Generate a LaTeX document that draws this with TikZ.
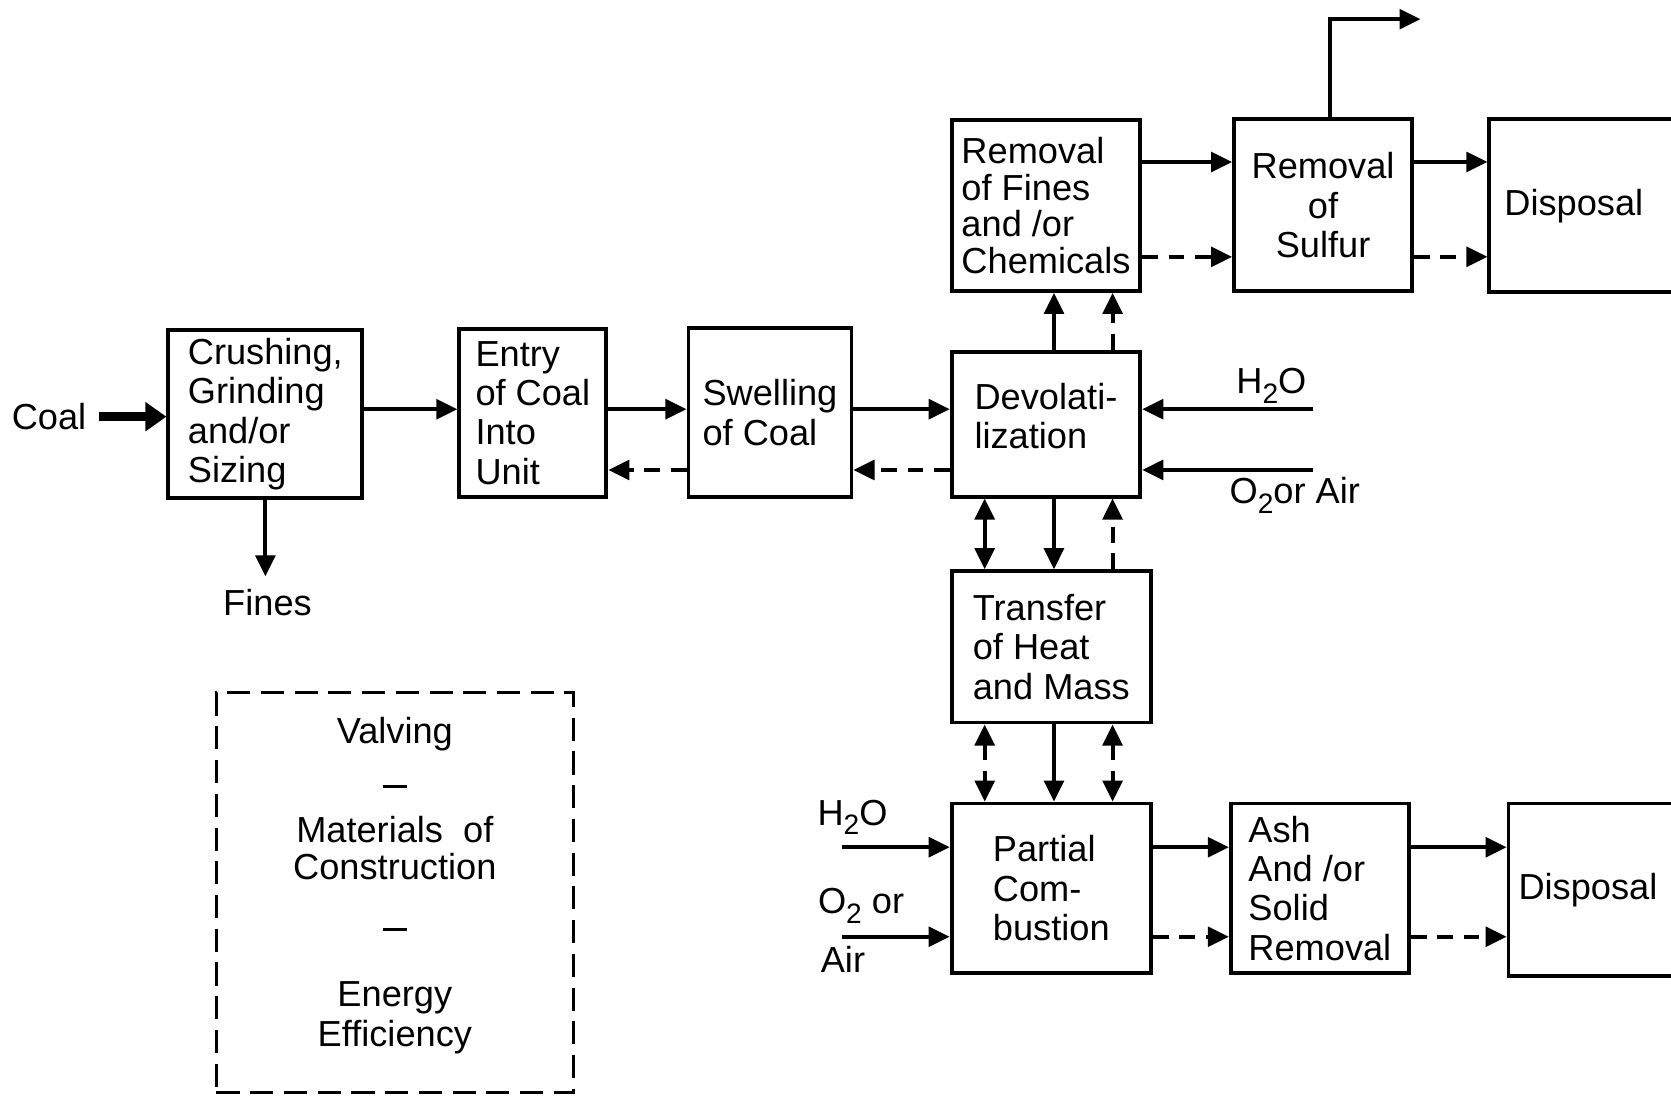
\documentclass[tikz,border=0pt]{standalone}
\usepackage{fontspec}
\setmainfont{Liberation Sans}
\usetikzlibrary{arrows.meta}
\newcommand{\subtwo}{\raisebox{-0.5ex}{\footnotesize 2}}
\newcommand{\legdash}{\rule[0.35ex]{7pt}{0.9pt}}

\begin{document}
\begin{tikzpicture}[x=0.10657mm, y=-0.10657mm,
        >={Triangle[length=6pt,width=5.6pt]},
        every node/.style={font=\fontsize{10.3}{11.2}\selectfont},
        box/.style={draw, line width=1.1pt, align=left, inner sep=0pt},
        flow/.style={line width=1.1pt},
        ctrl/.style={line width=1.1pt, dash pattern=on 4.5pt off 3pt}]
    \useasboundingbox (0,0) rectangle (1568,1028);

    % levels of the connectors
    \coordinate (mainrow) at (0,384);
    \coordinate (maindash) at (0,441);
    \coordinate (toprow) at (0,152);
    \coordinate (topdash) at (0,241);
    \coordinate (botrow) at (0,795);
    \coordinate (botdash) at (0,879);
    \coordinate (cola) at (924,0);
    \coordinate (colb) at (989,0);
    \coordinate (colc) at (1044,0);

    % process boxes
    \node[box, minimum width=1.94cm, minimum height=1.673cm] (crush) at (249,388.5) {Crushing,\\Grinding\\and/or\\Sizing};
    \node[box, minimum width=1.471cm, minimum height=1.673cm] (entry) at (500,387.5) {Entry\\of Coal\\Into\\Unit};
    \node[box, minimum width=1.63cm, minimum height=1.684cm] (swell) at (722.5,387) {Swelling\\of Coal};
    \node[box, minimum width=1.886cm, minimum height=1.449cm] (devol) at (981.5,398) {Devolati-\\lization\\[-6.4pt]\mbox{}};
    \node[box, minimum width=1.886cm, minimum height=1.705cm, font=\fontsize{10.3}{10.4}\selectfont] (remfin) at (981.5,193) {Removal\\of Fines\\and /or\\Chemicals};
    \node[box, align=center, minimum width=1.78cm, minimum height=1.716cm] (sulfur) at (1241.5,192.5) {Removal\\of\\Sulfur};
    \node[box, text width=2.97cm, inner xsep=0.15cm, minimum height=1.726cm] (disptop) at (1551,193) {Disposal};
    \node[box, minimum width=1.993cm, minimum height=1.513cm] (transfer) at (986.5,607) {Transfer\\of Heat\\and Mass};
    \node[box, minimum width=1.993cm, minimum height=1.694cm] (partial) at (986.5,833.5) {Partial\\Com-\\bustion};
    \node[box, minimum width=1.78cm, minimum height=1.694cm] (ash) at (1238.5,833.5) {Ash\\And /or\\Solid\\Removal};
    \node[box, text width=2.9cm, inner xsep=0.1cm, minimum height=1.726cm] (dispbot) at (1561,835) {Disposal};

    \node[draw, line width=0.8pt, dash pattern=on 6.6pt off 3pt, align=center,
        minimum width=3.57cm, minimum height=3.996cm] (legend) at (370.5,837.5)
        {Valving\\[3.3pt]\legdash\\[2.4pt]Materials\ \ of\\[-0.6pt]Construction\\[5.4pt]\legdash\\[8.4pt]Energy\\Efficiency\\[-5pt]\mbox{}};

    % labels and free ends
    \node (coal) at (46,391) {Coal};
    \node (fines) at (251,565) {Fines};
    \coordinate (gasout) at (1333,18);
    \coordinate (h2oin) at (1232,384);
    \coordinate (o2in) at (1232,441);
    \coordinate (h2obot) at (790,795);
    \coordinate (o2bot) at (790,879);
    \node (h2olab) at (1193,362) {H\subtwo O};
    \node (o2lab) at (1215,465) {O\subtwo or Air};
    \node (h2oblab) at (800,767) {H\subtwo O};
    \node (o2blab) at (808,850) {O\subtwo\ or};
    \node (airlab) at (791,900) {Air};

    % feed line
    \draw[line width=2.4pt, -{Triangle[length=6pt,width=8pt]}] (coal.east) -- (crush.west |- coal);
    \draw[flow,->] (crush.south) -- (crush.south |- fines.north);
    \draw[flow,->] (crush.east |- mainrow) -- (entry.west |- mainrow);
    \draw[flow,->] (entry.east |- mainrow) -- (swell.west |- mainrow);
    \draw[ctrl,->] (swell.west |- maindash) -- (entry.east |- maindash);
    \draw[flow,->] (swell.east |- mainrow) -- (devol.west |- mainrow);
    \draw[ctrl,->] (devol.west |- maindash) -- (swell.east |- maindash);
    \draw[flow,->] (h2oin) -- (devol.east |- h2oin);
    \draw[flow,->] (o2in) -- (devol.east |- o2in);

    % gas cleaning
    \draw[flow,->] (devol.north -| colb) -- (remfin.south -| colb);
    \draw[ctrl,->] (devol.north -| colc) -- (remfin.south -| colc);
    \draw[flow,->] (remfin.east |- toprow) -- (sulfur.west |- toprow);
    \draw[ctrl,->] (remfin.east |- topdash) -- (sulfur.west |- topdash);
    \draw[flow,->] (sulfur.east |- toprow) -- (disptop.west |- toprow);
    \draw[ctrl,->] (sulfur.east |- topdash) -- (disptop.west |- topdash);
    \draw[flow,->] ([xshift=2pt]sulfur.north) |- (gasout);

    % heat and mass
    \draw[flow,<->] (devol.south -| cola) -- (transfer.north -| cola);
    \draw[flow,->] (devol.south -| colb) -- (transfer.north -| colb);
    \draw[ctrl,->] (transfer.north -| colc) -- (devol.south -| colc);
    \draw[ctrl,<->] (transfer.south -| cola) -- (partial.north -| cola);
    \draw[flow,->] (transfer.south -| colb) -- (partial.north -| colb);
    \draw[ctrl,<->] (transfer.south -| colc) -- (partial.north -| colc);

    % combustion and ash
    \draw[flow,->] (h2obot) -- (partial.west |- h2obot);
    \draw[flow,->] (o2bot) -- (partial.west |- o2bot);
    \draw[flow,->] (partial.east |- botrow) -- (ash.west |- botrow);
    \draw[ctrl,->] (partial.east |- botdash) -- (ash.west |- botdash);
    \draw[flow,->] (ash.east |- botrow) -- (dispbot.west |- botrow);
    \draw[ctrl,->] (ash.east |- botdash) -- (dispbot.west |- botdash);
\end{tikzpicture}
\end{document}
